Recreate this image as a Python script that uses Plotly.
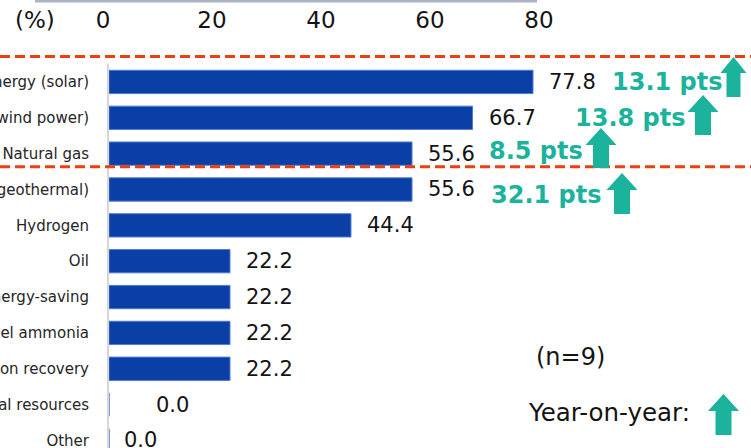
import plotly.graph_objects as go

# ---------------- data ----------------
categories = [
    "Renewable energy (solar)",
    "Renewable energy (wind power)",
    "Natural gas",
    "Renewable energy (geothermal)",
    "Hydrogen",
    "Oil",
    "Energy-saving",
    "Fuel ammonia",
    "Carbon recovery",
    "Mineral resources",
    "Other",
]
values = [77.8, 66.7, 55.6, 55.6, 44.4, 22.2, 22.2, 22.2, 22.2, 0.0, 0.0]
value_labels = ["77.8", "66.7", "55.6", "55.6", "44.4", "22.2", "22.2", "22.2", "22.2", "0.0", "0.0"]
yoy_labels = ["13.1 pts", "13.8 pts", "8.5 pts", "32.1 pts"]
x_ticks = [0, 20, 40, 60, 80]
sample_note = "(n=9)"
legend_label = "Year-on-year:"

# ---------------- layout geometry (pixels) ----------------
W, H = 751, 448
PL, PR, PT, PB = 109, 545, 64, 448
BLUE = "#0a3fa6"
TEAL = "#1bb39b"
RED = "#e8400f"
FONT = "DejaVu Sans, Verdana, sans-serif"


def px(x):
    return (x - PL) / (PR - PL)


def py(y):
    return (PB - y) / (PB - PT)


fig = go.Figure()
fig.add_trace(go.Bar(
    y=categories,
    x=values,
    orientation="h",
    marker=dict(color=BLUE, line=dict(color="#4f7bd6", width=1)),
    width=0.65,
    hoverinfo="skip",
))

annotations = []
# value labels next to bars
xshifts = [15, 15, 15, 15, 15, 15, 15, 15, 15, 46, 14]
for cat, v, lab, xs in zip(categories, values, value_labels, xshifts):
    annotations.append(dict(
        x=v, y=cat, xref="x", yref="y", text=lab, showarrow=False,
        xanchor="left", yanchor="middle", xshift=xs - 1,
        font=dict(family=FONT, size=21, color="#141414"),
    ))

# year-on-year green labels (pixel placement)
yoy_pos = [(610, 82), (573, 118), (487, 151), (489, 195)]
for lab, (xx, yy) in zip(yoy_labels, yoy_pos):
    annotations.append(dict(
        x=px(xx), y=py(yy), xref="paper", yref="paper", text="<b>" + lab + "</b>",
        showarrow=False, xanchor="left", yanchor="middle",
        font=dict(family=FONT, size=24, color=TEAL),
    ))

annotations += [
    dict(x=px(35), y=py(20), xref="paper", yref="paper", text="(%)", showarrow=False,
         xanchor="center", yanchor="middle", font=dict(family=FONT, size=23, color="#141414")),
    dict(x=px(570), y=py(357), xref="paper", yref="paper", text=sample_note, showarrow=False,
         xanchor="center", yanchor="middle", font=dict(family=FONT, size=24, color="#141414")),
    dict(x=px(609), y=py(412), xref="paper", yref="paper", text=legend_label, showarrow=False,
         xanchor="center", yanchor="middle", font=dict(family=FONT, size=24.5, color="#141414")),
]


def arrow(cx, top, bottom, head_w=31, shaft_w=16, head_h=17):
    hx = head_w / 2
    sx = shaft_w / 2
    pts = [
        (cx, top), (cx + hx, top + head_h), (cx + sx, top + head_h), (cx + sx, bottom),
        (cx - sx, bottom), (cx - sx, top + head_h), (cx - hx, top + head_h),
    ]
    d = "M " + " L ".join(f"{px(a):.5f},{py(b):.5f}" for a, b in pts) + " Z"
    return dict(type="path", xref="paper", yref="paper", path=d,
                fillcolor=TEAL, line=dict(color=TEAL, width=0), layer="above")


shapes = [
    # faint line at the very top
    dict(type="line", xref="paper", yref="paper", x0=px(35), x1=px(537), y0=py(1), y1=py(1),
         line=dict(color="#aab4c6", width=3)),
    # red dashed separators
    dict(type="line", xref="paper", yref="paper", x0=px(0), x1=px(751), y0=py(56.5), y1=py(56.5),
         line=dict(color=RED, width=3, dash="10px,5px")),
    dict(type="line", xref="paper", yref="paper", x0=px(0), x1=px(751), y0=py(166.7), y1=py(166.7),
         line=dict(color=RED, width=3, dash="10px,5px")),
    arrow(733.5, 57, 97, head_w=26, shaft_w=14, head_h=16),
    arrow(703, 95, 135),
    arrow(601, 128, 168),
    arrow(622, 173, 214),
    arrow(723.5, 394, 435),
]

fig.update_layout(
    width=W, height=H,
    margin=dict(l=PL, r=W - PR, t=PT, b=H - PB, pad=0, autoexpand=False),
    paper_bgcolor="white", plot_bgcolor="white",
    showlegend=False,
    annotations=annotations,
    shapes=shapes,
    xaxis=dict(
        range=[0, 80], side="top", tickvals=x_ticks, ticktext=[str(t) for t in x_ticks],
        showgrid=False, zeroline=False, showline=False, ticks="",
        ticklabelstandoff=30, ticklabelshift=-6, automargin=False,
        tickfont=dict(family=FONT, size=23, color="#141414"),
        fixedrange=True,
    ),
    yaxis=dict(
        categoryorder="array", categoryarray=categories,
        range=[10.21, -0.5], showgrid=False, zeroline=False,
        showline=True, linecolor="#d6d6d6", linewidth=2,
        ticks="", ticklabelstandoff=15, automargin=False,
        tickfont=dict(family=FONT, size=15, color="#262626"),
        fixedrange=True,
    ),
    font=dict(family=FONT),
)

fig.write_html(
    "out.html",
    config={"displayModeBar": False},
    post_script="document.body.style.margin='0';document.body.style.overflow='hidden';",
)
